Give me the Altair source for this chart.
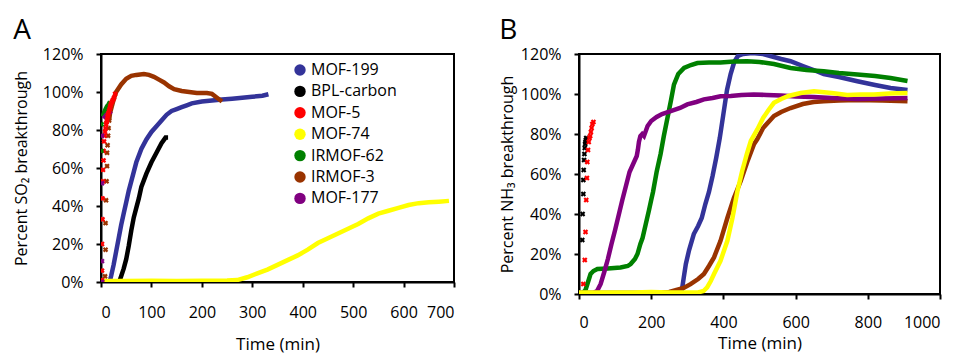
import altair as alt
import pandas as pd

FONT = "Open Sans"

SERIES = ["MOF-199", "BPL-carbon", "MOF-5", "MOF-74", "IRMOF-62", "IRMOF-3", "MOF-177"]
COLORS = ["#333399", "#000000", "#FF0000", "#FFFF00", "#008000", "#993300", "#800080"]

# ---------------- Panel A (SO2) ----------------
A_MOF199_T = [17, 20, 25, 30, 35, 40, 45, 50, 55, 60, 65, 70, 80, 90, 100, 110, 120, 130, 140, 150, 160, 170, 180, 200, 220, 240, 260, 280, 300, 320, 332]
A_MOF199_P = [0, 3, 9, 16, 23, 30, 36, 42, 48, 53, 58, 63, 70, 75, 79, 82, 85, 88, 90, 91, 92, 93, 94, 95, 95.5, 96, 96.5, 97, 97.5, 98, 98.8]
A_BPL_T = [36, 40, 45, 50, 55, 60, 65, 70, 75, 80, 90, 100, 110, 120, 128, 133]
A_BPL_P = [0, 3, 7, 12, 19, 27, 34, 39, 44, 50, 57, 63, 68, 73, 76, 76]
A_MOF74_T = [0, 50, 100, 150, 200, 250, 270, 290, 310, 330, 350, 370, 390, 410, 430, 450, 470, 490, 510, 530, 550, 570, 590, 610, 630, 650, 670, 690]
A_MOF74_P = [0.5, 0.5, 0.6, 0.5, 0.6, 0.8, 1, 2.5, 4.5, 6.5, 9, 11.5, 14, 17, 20.5, 23, 25.5, 28, 30.5, 33.5, 36, 37.5, 39, 40.5, 41.5, 42, 42.3, 42.7]
A_IRMOF62_T = [3, 6, 9, 12, 15, 18]
A_IRMOF62_P = [87, 89, 91, 92.5, 93.5, 95]
A_IRMOF3_T = [16, 18, 20, 25, 30, 40, 50, 60, 70, 85, 95, 105, 115, 125, 135, 145, 160, 175, 190, 210, 220, 230, 240]
A_IRMOF3_P = [85, 89, 91, 96, 100, 104, 107, 108.5, 109, 109.5, 109, 108, 106.5, 105, 103, 101.5, 100.5, 100, 99.5, 99.5, 99, 97, 95]
A_MOF177_T = [5, 8, 11, 14, 17, 20]
A_MOF177_P = [86, 87, 88, 88.5, 89, 90]

# scattered points (panel A)
A_MOF5_PT_T = [2, 2, 2, 3, 3, 4, 4, 5, 5, 6, 7, 8, 9, 10, 11, 12, 13, 14, 15, 16, 17, 18, 19, 20, 22, 24, 26, 28]
A_MOF5_PT_P = [1, 6, 20, 33, 44, 53, 59, 64, 69, 74, 77, 79, 81, 83, 84, 85, 87, 88, 89, 90, 91, 92, 93, 94, 95, 96, 97, 99]
A_IRMOF62_PT_T = [1, 1]
A_IRMOF62_PT_P = [69, 83]
A_IRMOF3_PT_T = [2, 8, 9, 9, 10, 11, 12, 12, 13, 14, 15, 16]
A_IRMOF3_PT_P = [0, 3, 17, 31, 43, 53, 61, 68, 72, 77, 81, 85]
A_MOF177_PT_T = [2, 2, 2, 2]
A_MOF177_PT_P = [0, 11, 52, 77]

# ---------------- Panel B (NH3) ----------------
B_MOF199_T = [0, 100, 200, 280, 285, 290, 296, 305, 318, 330, 340, 350, 360, 370, 380, 390, 400, 410, 420, 430, 440, 455, 480, 510, 530, 560, 586, 620, 650, 678, 720, 771, 820, 863, 910]
B_MOF199_P = [0.5, 0.5, 0.5, 0.5, 2, 8, 15, 22, 30, 34, 38, 45, 51, 59, 68, 78, 90, 102, 110, 116, 119, 120, 120.5, 120, 119, 117.5, 116.4, 114, 112, 110, 108.5, 106.4, 104.5, 103, 102]
B_MOF74_T = [0, 50, 100, 150, 200, 250, 300, 330, 345, 355, 365, 374, 392, 411, 425, 439, 452, 465, 476, 494, 510, 525, 540, 560, 580, 614, 651, 700, 743, 780, 817, 860, 910]
B_MOF74_P = [0.8, 0.8, 0.8, 0.8, 1, 0.8, 0.8, 0.8, 1.5, 3.3, 6.5, 10, 16.6, 26.6, 38, 51.5, 61.5, 70, 76.5, 82.3, 88, 92, 95.6, 97.5, 99, 100.5, 101.4, 100.5, 99.5, 99.8, 99.8, 100.2, 100.5]
B_IRMOF62_T = [0, 10, 18, 25, 32, 40, 51, 80, 115, 135, 143, 155, 162, 170, 176, 185, 194, 200, 205, 215, 226, 235, 245, 255, 263, 275, 291, 310, 328, 360, 392, 430, 466, 500, 540, 586, 630, 678, 720, 771, 820, 863, 910]
B_IRMOF62_P = [0.5, 0.5, 2, 6, 10, 11.5, 12.5, 12.8, 13.3, 14, 15, 17.5, 20, 25, 28, 35, 42, 47, 51, 61, 70, 79, 88, 97, 104.7, 110, 113, 114.5, 115.5, 115.8, 115.8, 116.2, 116.4, 116, 115, 113, 112, 111.4, 110.5, 109.7, 109, 108, 106.5]
B_IRMOF3_T = [0, 100, 200, 250, 270, 290, 309, 330, 346, 360, 374, 392, 411, 429, 448, 466, 485, 494, 510, 540, 560, 586, 620, 650, 678, 720, 771, 840, 910]
B_IRMOF3_P = [0.5, 0.5, 0.5, 1, 2, 3, 4.9, 7.5, 10, 14, 18.3, 26.6, 38, 48, 56.5, 66, 75, 77.5, 83, 89, 91, 93, 95, 96, 96.4, 96.7, 97, 96.8, 96.4]
B_MOF177_T = [0, 40, 50, 60, 70, 80, 90, 100, 110, 120, 130, 140, 150, 160, 163, 166, 170, 175, 180, 190, 200, 215, 230, 254, 280, 300, 325, 346, 370, 392, 420, 450, 484, 520, 560, 600, 650, 700, 771, 840, 910]
B_MOF177_P = [0.5, 0.5, 1.5, 5, 11, 17.5, 25, 32, 39.5, 47, 54, 61, 65, 69, 72, 76, 79, 80, 79, 84, 86.5, 88.5, 90, 91.4, 93, 94.8, 96, 97.3, 98, 98.9, 99, 99.5, 99.8, 99.5, 99.3, 98.8, 98.5, 98, 97.5, 97.8, 98]

# scattered points (panel B)
B_BPL_PT_T = [9, 10, 12, 12, 13, 14, 15, 16, 17, 18, 19, 20]
B_BPL_PT_P = [27, 40, 50, 57, 62, 67, 70, 73, 75, 76, 77, 78]
B_MOF5_PT_T = [12, 16, 18, 20, 22, 23, 25, 27, 29, 31, 33, 35, 37, 40]
B_MOF5_PT_P = [5, 17, 31, 47, 58, 66, 72, 76, 78, 79, 81, 83, 85, 86]


def frame(pairs):
    rows = []
    for name, ts, ps in pairs:
        for t, p in zip(ts, ps):
            rows.append({"series": name, "t": t, "p": p})
    return pd.DataFrame(rows)


A_LINES = [
    ("MOF-199", A_MOF199_T, A_MOF199_P),
    ("BPL-carbon", A_BPL_T, A_BPL_P),
    ("IRMOF-3", A_IRMOF3_T, A_IRMOF3_P),
    ("IRMOF-62", A_IRMOF62_T, A_IRMOF62_P),
    ("MOF-177", A_MOF177_T, A_MOF177_P),
    ("MOF-74", A_MOF74_T, A_MOF74_P),
]
A_POINTS = [
    ("IRMOF-3", A_IRMOF3_PT_T, A_IRMOF3_PT_P),
    ("MOF-5", A_MOF5_PT_T, A_MOF5_PT_P),
    ("IRMOF-62", A_IRMOF62_PT_T, A_IRMOF62_PT_P),
    ("MOF-177", A_MOF177_PT_T, A_MOF177_PT_P),
]
B_LINES = [
    ("MOF-199", B_MOF199_T, B_MOF199_P),
    ("IRMOF-3", B_IRMOF3_T, B_IRMOF3_P),
    ("IRMOF-62", B_IRMOF62_T, B_IRMOF62_P),
    ("MOF-177", B_MOF177_T, B_MOF177_P),
    ("MOF-74", B_MOF74_T, B_MOF74_P),
]
B_POINTS = [
    ("BPL-carbon", B_BPL_PT_T, B_BPL_PT_P),
    ("MOF-5", B_MOF5_PT_T, B_MOF5_PT_P),
]

color_scale = alt.Scale(domain=SERIES, range=COLORS)


def panel(lines, points, xmax, xticks, width, height, ytitle, label,
          ytitle_pad, xlabel_pad, xtitle_pad, with_legend):
    x = alt.X("t:Q", scale=alt.Scale(domain=[0, xmax], nice=False),
              axis=alt.Axis(values=xticks, title="Time (min)", grid=False, format="d",
                            labelPadding=xlabel_pad, titlePadding=xtitle_pad,
                            titleFontSize=17))
    y = alt.Y("p:Q", scale=alt.Scale(domain=[0, 120], nice=False),
              axis=alt.Axis(values=[0, 20, 40, 60, 80, 100, 120], grid=False,
                            labelExpr="datum.value + '%'", title=ytitle,
                            labelPadding=13, titlePadding=ytitle_pad))
    layers = []
    for name, ts, ps in lines:
        df = frame([(name, ts, ps)])
        layers.append(
            alt.Chart(df).mark_line(strokeWidth=4.5, clip=True).encode(
                x=x, y=y,
                color=alt.Color("series:N", scale=color_scale, legend=None),
            )
        )
    pdf = frame(points)
    if with_legend:
        leg = alt.Legend(title=None, orient="none", legendX=191, legendY=8,
                         symbolType="circle", symbolSize=130, symbolOpacity=1,
                         labelFontSize=16, labelFont=FONT, labelColor="black",
                         labelOffset=3, rowPadding=5.4, padding=0,
                         symbolStrokeWidth=0)
    else:
        leg = None
    layers.append(
        alt.Chart(pdf).mark_point(shape="cross", filled=True, angle=45, size=30,
                                  opacity=1, clip=True).encode(
            x=x, y=y,
            color=alt.Color("series:N", scale=color_scale, legend=leg),
        )
    )
    return alt.layer(*layers).resolve_legend(color="independent").properties(
        width=width, height=height,
        title=alt.TitleParams(label, anchor="start", frame="bounds", fontSize=28,
                              fontWeight="normal", font=FONT, color="black",
                              offset=1),
    )


chartA = panel(A_LINES, A_POINTS, 700, [0, 100, 200, 300, 400, 500, 600, 700],
               353, 228, "Percent SO₂ breakthrough", "A", 13, 17, 16, True)
chartB = panel(B_LINES, B_POINTS, 1000, [0, 200, 400, 600, 800, 1000],
               361, 240, "Percent NH₃ breakthrough", "B", 5, 15, 5, False)

chart = alt.hconcat(chartA, chartB, spacing=42).resolve_legend(color="independent").properties(
    padding={"left": 4, "top": 8, "right": 0, "bottom": 0}
).configure_view(
    stroke="black", strokeWidth=2
).configure_axis(
    domainColor="black", domainWidth=2, tickColor="black", tickWidth=2, tickSize=5,
    labelFont=FONT, labelFontSize=16, labelColor="black",
    titleFont=FONT, titleFontSize=16, titleFontWeight="normal", titleColor="black",
)

chart.save("out.html", embed_options={"renderer": "svg", "actions": False})
